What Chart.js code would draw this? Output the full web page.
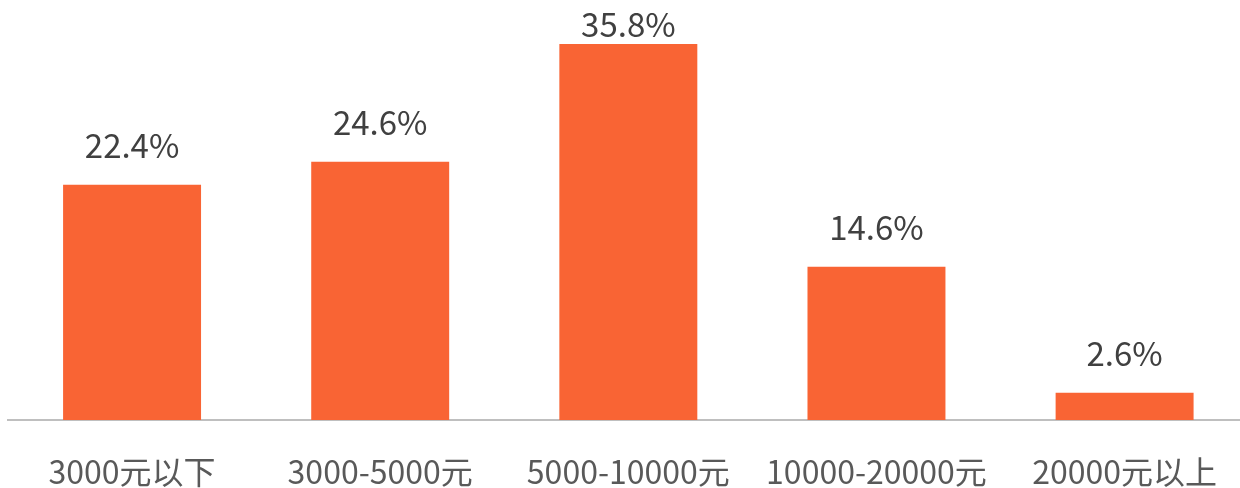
<!DOCTYPE html>
<html>
<head>
<meta charset="utf-8">
<script src="https://cdn.jsdelivr.net/npm/chart.js@4"></script>
<style>
  html, body { margin: 0; padding: 0; background: #fff; overflow: hidden; }
  .wrap { position: relative; width: 1253px; height: 488px; }
</style>
</head>
<body>
<div class="wrap"><canvas id="myChart"></canvas></div>
<script>
const categories = ['3000元以下', '3000-5000元', '5000-10000元', '10000-20000元', '20000元以上'];
const shares = [22.4, 24.6, 35.8, 14.6, 2.6];

const fontFamily = '"Noto Sans CJK SC", "Noto Sans", sans-serif';

// value labels above each bar
const valueLabels = {
  id: 'valueLabels',
  afterDatasetsDraw(chart) {
    const ctx = chart.ctx;
    const meta = chart.getDatasetMeta(0);
    ctx.save();
    ctx.font = '33px ' + fontFamily;
    ctx.fillStyle = '#404040';
    ctx.textAlign = 'center';
    ctx.textBaseline = 'alphabetic';
    meta.data.forEach((bar, i) => {
      let y = bar.y - 27;
      if (y < 37) y = 37;
      ctx.fillText(shares[i].toFixed(1) + '%', bar.x, y);
    });
    ctx.restore();
  }
};

const ctx = document.getElementById('myChart');

new Chart(ctx, {
  type: 'bar',
  data: {
    labels: categories,
    datasets: [{
      data: shares,
      backgroundColor: '#f96434',
      barPercentage: 0.556,
      categoryPercentage: 1
    }]
  },
  options: {
    responsive: true,
    maintainAspectRatio: false,
    animation: false,
    devicePixelRatio: 1,
    layout: { padding: { left: 8, right: 0, top: 0, bottom: 0 } },
    plugins: {
      legend: { display: false },
      tooltip: { enabled: false }
    },
    scales: {
      x: {
        grid: { display: false, drawTicks: false },
        border: { display: true, color: '#bfbfbf', width: 2 },
        ticks: {
          color: '#595959',
          font: { family: fontFamily, size: 32, lineHeight: 1.0 },
          padding: 36,
          maxRotation: 0,
          autoSkip: false
        },
        afterFit(scale) { scale.height = 68; }
      },
      y: {
        display: false,
        min: 0,
        max: 40
      }
    }
  },
  plugins: [valueLabels]
});
</script>
</body>
</html>
